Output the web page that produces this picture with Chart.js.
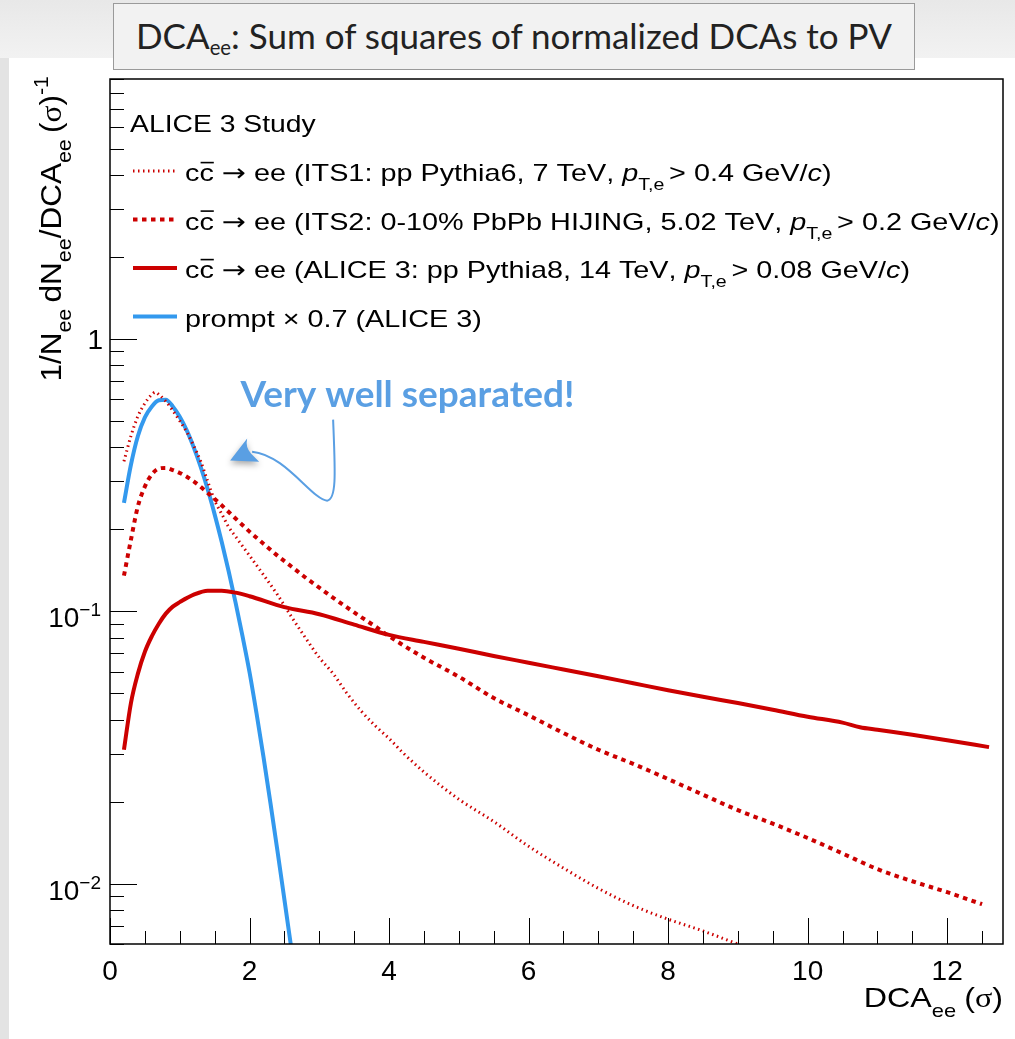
<!DOCTYPE html>
<html>
<head>
<meta charset="utf-8">
<script src="https://cdn.jsdelivr.net/npm/chart.js@4.4.1/dist/chart.umd.min.js"></script>
<style>
  html, body { margin: 0; padding: 0; }
  body { width: 1015px; height: 1039px; position: relative; overflow: hidden;
         background: linear-gradient(#e8e8e8, #f2f2f2 58px, #e3e3e3 58px); }
  #panel { position: absolute; left: 9px; top: 58px; right: 0; bottom: 0; background: #fff; }
  #ttl { position: absolute; left: 113px; top: 3px; width: 802px; height: 67px; box-sizing: border-box;
         background: #f2f2f2; border: 1.5px solid #9a9a9a; color: #222;
         font-family: Lato, sans-serif; font-size: 35px; line-height: 62px; text-align: center; }
  #ttl sub { font-size: 58%; vertical-align: -6px; line-height: 0; }
  canvas { position: absolute; left: 0; top: 0; }
</style>
</head>
<body>
<div id="panel"></div>
<div id="ttl">DCA<sub>ee</sub>: Sum of squares of normalized DCAs to PV</div>
<canvas id="c" width="1015" height="1039"></canvas>
<script>
// values
const its1X = [0.2, 0.3, 0.4, 0.5, 0.6, 0.65, 0.7, 0.8, 0.9, 1.0, 1.1, 1.2, 1.3, 1.4, 1.5, 1.6, 1.7, 1.8, 2.0, 2.2, 2.4, 2.6, 2.8, 3.0, 3.2, 3.4, 3.6, 3.8, 4.0, 4.2, 4.5, 5.0, 5.5, 6.0, 6.5, 7.0, 7.5, 8.0, 8.5, 9.0];
const its1Y = [0.355, 0.44, 0.52, 0.58, 0.625, 0.637, 0.625, 0.59, 0.545, 0.50, 0.455, 0.405, 0.355, 0.30, 0.255, 0.228, 0.204, 0.188, 0.160, 0.136, 0.115, 0.0955, 0.080, 0.0676, 0.0589, 0.0498, 0.0430, 0.038, 0.0341, 0.0302, 0.0257, 0.0204, 0.0169, 0.0137, 0.0114, 0.0096, 0.0083, 0.0074, 0.0067, 0.0060];

const its2X = [0.2, 0.3, 0.4, 0.5, 0.6, 0.7, 0.8, 0.9, 1.0, 1.2, 1.4, 1.6, 1.8, 2.0, 2.2, 2.4, 2.6, 2.8, 3.0, 3.2, 3.5, 3.8, 4.0, 4.5, 5.0, 5.5, 6.0, 6.5, 7.0, 7.5, 8.0, 8.5, 9.0, 9.5, 10.0, 10.5, 11.0, 11.5, 12.0, 12.5];
const its2Y = [0.135, 0.183, 0.243, 0.287, 0.318, 0.334, 0.336, 0.33, 0.322, 0.300, 0.272, 0.245, 0.219, 0.196, 0.177, 0.160, 0.146, 0.133, 0.122, 0.112, 0.099, 0.088, 0.081, 0.0675, 0.0575, 0.048, 0.0415, 0.0357, 0.031, 0.0275, 0.0242, 0.0212, 0.0186, 0.0166, 0.0147, 0.0129, 0.0113, 0.0102, 0.0093, 0.0084];

const a3X = [0.2, 0.3, 0.4, 0.5, 0.6, 0.7, 0.8, 0.9, 1.0, 1.2, 1.4, 1.6, 1.8, 2.0, 2.5, 3.0, 3.5, 4.0, 4.5, 5.0, 5.5, 6.0, 6.5, 7.0, 7.5, 8.0, 8.5, 9.0, 9.5, 10.0, 10.5, 10.75, 11.0, 11.5, 12.0, 12.6];
const a3Y = [0.031, 0.046, 0.059, 0.071, 0.081, 0.090, 0.098, 0.104, 0.108, 0.115, 0.119, 0.119, 0.117, 0.1135, 0.1035, 0.0975, 0.0893, 0.0819, 0.0772, 0.0728, 0.0685, 0.0647, 0.0611, 0.0577, 0.0544, 0.0513, 0.0485, 0.046, 0.0435, 0.041, 0.039, 0.0375, 0.0367, 0.0352, 0.0336, 0.0317];

const promptX = [0.2, 0.3, 0.4, 0.5, 0.6, 0.7, 0.8, 0.9, 1.0, 1.1, 1.2, 1.3, 1.4, 1.5, 1.6, 1.7, 1.8, 1.9, 2.0, 2.1, 2.2, 2.3, 2.4, 2.5, 2.6];
const promptY = [0.25, 0.345, 0.44, 0.515, 0.565, 0.595, 0.598, 0.5646, 0.5172, 0.4611, 0.3996, 0.3386, 0.2804, 0.2268, 0.1802, 0.1405, 0.1076, 0.0808, 0.0597, 0.0422, 0.0292, 0.01975, 0.0132, 0.00873, 0.00576];

const xTicks = [0, 2, 4, 6, 8, 10, 12];
const yDecades = [1, 0.1, 0.01];

const RED = '#cc0000';
const BLUE = '#3399ee';
const NOTE = '#5a9fe3';
const FONT = '"Liberation Sans", Arial, sans-serif';
const ARROWFONT = '"DejaVu Sans", sans-serif';

function pts(xs, ys) {
  return xs.map((x, i) => ({ x: x, y: ys[i] }));
}

// draws a line of text made of pieces (subscripts, superscripts, italics, overline)
// hs stretches the text along its direction
function rich(ctx, x, y, segs, size, align, hs) {
  hs = hs || 1;
  const parts = segs.map(s => {
    const small = s.sub || s.sup;
    const sz = s.size || (small ? size * 0.68 : size);
    const fam = s.fam || FONT;
    const font = (s.it ? 'italic ' : '') + sz + 'px ' + fam;
    ctx.font = font;
    let dy = 0;
    if (s.sub) dy = size * 0.34;
    if (s.sup) dy = -size * 0.42;
    if (s.dy !== undefined) dy = s.dy;
    return { s: s, font: font, w: ctx.measureText(s.t).width, dy: dy };
  });
  const total = parts.reduce((a, p) => a + p.w + (p.s.gap || 0), 0);
  let cx = align === 'right' ? -total : align === 'center' ? -total / 2 : 0;
  ctx.save();
  ctx.translate(x, y);
  ctx.scale(hs, 1);
  ctx.textAlign = 'left';
  ctx.textBaseline = 'alphabetic';
  parts.forEach(p => {
    ctx.font = p.font;
    ctx.fillText(p.s.t, cx, p.dy);
    if (p.s.ol) ctx.fillRect(cx + 1, -size * 0.8, p.w - 1, 1.6);
    cx += p.w + (p.s.gap || 0);
  });
  ctx.restore();
  return total * hs;
}

function ptLabel(cut) {
  return [
    { t: ', ' }, { t: 'p', it: 1 }, { t: 'T,e', sub: 1, dy: 9, gap: 4 },
    { t: '> ' + cut + ' GeV/' }, { t: 'c', it: 1 }, { t: ')' }
  ];
}
const cc = [{ t: 'c' }, { t: 'c', ol: 1 }, { t: ' ' }, { t: '\u2192', fam: ARROWFONT }, { t: ' ee (' }];

const legendRows = [
  { ds: 3, segs: cc.concat([{ t: 'ITS1: pp Pythia6, 7 TeV' }], ptLabel('0.4')) },
  { ds: 2, segs: cc.concat([{ t: 'ITS2: 0-10% PbPb HIJING, 5.02 TeV' }], ptLabel('0.2')) },
  { ds: 1, segs: cc.concat([{ t: 'ALICE 3: pp Pythia8, 14 TeV' }], ptLabel('0.08')) },
  { ds: 0, segs: [{ t: 'prompt \u00d7 0.7 (ALICE 3)' }] }
];

const decor = {
  id: 'decor',
  afterDraw(chart) {
    const ctx = chart.ctx;
    const a = chart.chartArea;
    const xs = chart.scales.x;
    const ys = chart.scales.y;
    ctx.save();
    ctx.fillStyle = '#000';
    ctx.strokeStyle = '#000';

    // frame
    ctx.lineWidth = 1.5;
    ctx.strokeRect(a.left, a.top, a.right - a.left, a.bottom - a.top);

    // x ticks (inside)
    ctx.lineWidth = 1;
    ctx.beginPath();
    for (let v = 0; v <= xs.max + 1e-9; v += 0.5) {
      const px = Math.round(xs.getPixelForValue(v)) + 0.5;
      const len = Math.abs(v % 2) < 1e-9 ? 26 : 13;
      ctx.moveTo(px, a.bottom);
      ctx.lineTo(px, a.bottom - len);
    }
    // y ticks (inside)
    for (let d = -3; d <= 1; d++) {
      for (let m = 1; m <= 9; m++) {
        const v = m * Math.pow(10, d);
        if (v < ys.min || v > ys.max) continue;
        const py = Math.round(ys.getPixelForValue(v)) + 0.5;
        ctx.moveTo(a.left, py);
        ctx.lineTo(a.left + (m === 1 ? 27 : 14), py);
      }
    }
    ctx.stroke();

    // y tick labels
    yDecades.forEach(v => {
      const py = ys.getPixelForValue(v);
      if (v === 1) {
        rich(ctx, a.left - 7, py + 10, [{ t: '1' }], 28, 'right');
      } else {
        const e = Math.round(Math.log10(v));
        rich(ctx, a.left - 9, py + 16, [{ t: '10' }, { t: '\u2212' + (-e), size: 19, dy: -11 }], 28, 'right');
      }
    });

    // axis titles
    rich(ctx, a.right, 1007, [{ t: 'DCA' }, { t: 'ee', sub: 1, gap: 7 }, { t: '(' }, { t: '\u03c3', fam: '"Liberation Serif", serif' }, { t: ')' }], 28, 'right', 1.15);
    ctx.save();
    ctx.translate(61, 76);
    ctx.rotate(-Math.PI / 2);
    rich(ctx, 0, 0, [
      { t: '1/N' }, { t: 'ee', sub: 1, gap: 6 }, { t: 'dN' }, { t: 'ee', sub: 1 },
      { t: '/DCA' }, { t: 'ee', sub: 1, gap: 6 }, { t: '(' }, { t: '\u03c3', fam: '"Liberation Serif", serif' }, { t: ')' },
      { t: '-1', sup: 1 }
    ], 30, 'right', 1.05);
    ctx.restore();

    // legend
    rich(ctx, 130, 132, [{ t: 'ALICE 3 Study' }], 24, 'left', 1.18);
    legendRows.forEach((row, i) => {
      const ds = chart.data.datasets[row.ds];
      const y = 171 + i * 48.5;
      ctx.save();
      ctx.strokeStyle = ds.borderColor;
      ctx.lineWidth = ds.borderWidth;
      ctx.setLineDash(ds.borderDash || []);
      ctx.beginPath();
      ctx.moveTo(133, y);
      ctx.lineTo(177, y);
      ctx.stroke();
      ctx.restore();
      rich(ctx, 185, y + 10, row.segs, 24, 'left', 1.2);
    });

    // annotation
    const P = (x, y) => [xs.getPixelForValue(x), ys.getPixelForValue(y)];
    ctx.fillStyle = NOTE;
    ctx.font = 'bold 37px Lato, "Open Sans", sans-serif';
    ctx.textAlign = 'left';
    const tp = P(1.87, 0.564);
    ctx.fillText('Very well separated!', tp[0], tp[1]);

    ctx.strokeStyle = NOTE;
    ctx.lineWidth = 2;
    ctx.beginPath();
    let p = P(3.198, 0.5053); ctx.moveTo(p[0], p[1]);
    let c1 = P(3.226, 0.3311), c2 = P(3.255, 0.257), e = P(3.112, 0.2547);
    ctx.bezierCurveTo(c1[0], c1[1], c2[0], c2[1], e[0], e[1]);
    c1 = P(2.897, 0.257); c2 = P(2.51, 0.3758); e = P(2.037, 0.3855);
    ctx.bezierCurveTo(c1[0], c1[1], c2[0], c2[1], e[0], e[1]);
    ctx.stroke();

    ctx.shadowColor = 'rgba(0,0,0,0.35)';
    ctx.shadowBlur = 6;
    ctx.shadowOffsetY = 3;
    ctx.beginPath();
    const tip = P(1.722, 0.3573), w1 = P(1.966, 0.4304), n = P(2.023, 0.379), w2 = P(2.138, 0.354);
    ctx.moveTo(tip[0], tip[1]);
    ctx.lineTo(w1[0], w1[1]);
    ctx.quadraticCurveTo(w1[0] - 2, n[1] - 6, n[0], n[1]);
    ctx.lineTo(w2[0], w2[1]);
    ctx.closePath();
    ctx.fill();
    ctx.restore();
  }
};

new Chart(document.getElementById('c'), {
  type: 'line',
  data: {
    datasets: [
      { label: 'prompt x 0.7 (ALICE 3)', data: pts(promptX, promptY), borderColor: BLUE, borderWidth: 4, order: 4 },
      { label: 'ALICE 3: pp Pythia8, 14 TeV', data: pts(a3X, a3Y), borderColor: RED, borderWidth: 4, order: 3 },
      { label: 'ITS2: 0-10% PbPb HIJING, 5.02 TeV', data: pts(its2X, its2Y), borderColor: RED, borderWidth: 4, borderDash: [4.5, 4.5], order: 2 },
      { label: 'ITS1: pp Pythia6, 7 TeV', data: pts(its1X, its1Y), borderColor: RED, borderWidth: 3, borderDash: [1.5, 3.5], order: 1 }
    ]
  },
  options: {
    responsive: false,
    animation: false,
    devicePixelRatio: 1,
    layout: { padding: { left: 0, top: 79, right: 12, bottom: 0 } },
    elements: {
      point: { radius: 0 },
      line: { cubicInterpolationMode: 'monotone', fill: false }
    },
    plugins: { legend: { display: false }, tooltip: { enabled: false } },
    scales: {
      x: {
        type: 'linear', min: 0, max: 12.8,
        grid: { display: false, drawTicks: false },
        border: { display: false },
        afterFit: s => { s.height = 95; },
        afterBuildTicks: s => { s.ticks = xTicks.map(v => ({ value: v })); },
        ticks: { color: '#000', padding: 11, maxRotation: 0, font: { family: FONT, size: 28 } }
      },
      y: {
        type: 'logarithmic', min: 0.006, max: 9,
        grid: { display: false, drawTicks: false },
        border: { display: false },
        afterFit: s => { s.width = 110; },
        ticks: { display: false }
      }
    }
  },
  plugins: [decor]
});
</script>
</body>
</html>
